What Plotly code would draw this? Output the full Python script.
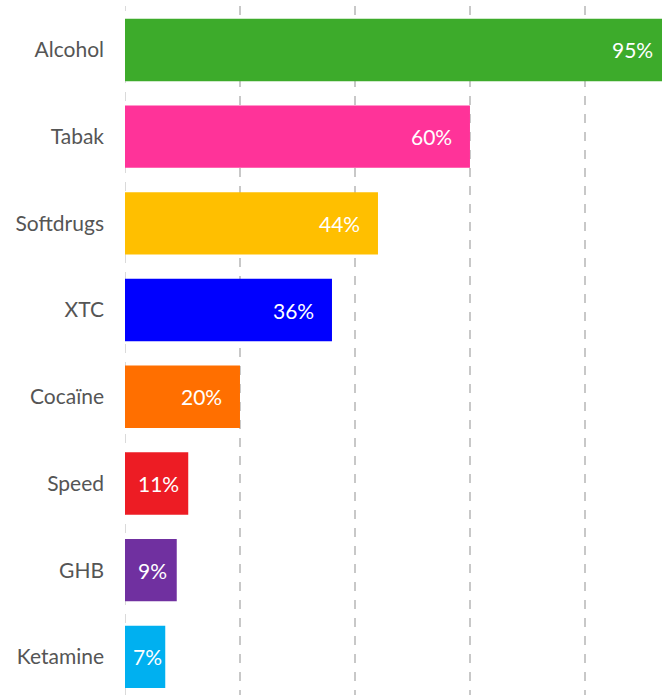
import plotly.graph_objects as go

categories = ["Alcohol", "Tabak", "Softdrugs", "XTC", "Cocaïne", "Speed", "GHB", "Ketamine"]
values = [95, 60, 44, 36, 20, 11, 9, 7]
colors = ["#3dab2b", "#ff3399", "#ffbf00", "#0000ff", "#ff6f00", "#ed1c24", "#7030a0", "#00b0f0"]

FONT = "Lato, sans-serif"
W, H = 662, 695
LEFT = 125
TOP = 6
XMAX = 93.4
PX = (W - LEFT) / XMAX   # pixels per percent
PAD = 16

fig = go.Figure(go.Bar(
    x=values,
    y=categories,
    orientation="h",
    width=0.72,
    marker=dict(color=colors, line=dict(width=0)),
    hoverinfo="skip",
))

# value labels: right-aligned inside long bars, centred in short ones
annotations = []
for cat, v in zip(categories, values):
    if v * PX > 72:
        xa = min(v, XMAX)
        annotations.append(dict(
            x=xa, y=cat, text=f"{v}%", showarrow=False,
            xanchor="right", xshift=-PAD + (v - xa) * PX,
            font=dict(color="#ffffff", size=21, family=FONT),
        ))
    else:
        annotations.append(dict(
            x=v / 2, y=cat, text=f"{v}%", showarrow=False,
            xanchor="center", xshift=2,
            font=dict(color="#ffffff", size=21, family=FONT),
        ))

# faint dashed baseline at zero
fig.add_shape(
    type="line", xref="x", yref="paper", x0=0, x1=0, y0=0, y1=1,
    line=dict(color="#dadada", width=2, dash="dash"), layer="below",
)

fig.update_layout(
    width=W,
    height=H,
    paper_bgcolor="#ffffff",
    plot_bgcolor="#ffffff",
    font=dict(family=FONT, color="#555555", size=21),
    margin=dict(l=LEFT, r=0, t=TOP, b=0, pad=0),
    showlegend=False,
    hovermode=False,
    annotations=annotations,
    xaxis=dict(
        range=[0, XMAX],
        tickvals=[20, 40, 60, 80],
        showticklabels=False,
        showgrid=True,
        gridcolor="#c8c8c8",
        gridwidth=2,
        griddash="dash",
        zeroline=False,
        showline=False,
    ),
    yaxis=dict(
        categoryorder="array",
        categoryarray=categories,
        range=[7.44, -0.507],
        showgrid=False,
        zeroline=False,
        showline=False,
        ticks="",
        ticklabelstandoff=20,
        tickfont=dict(size=21, color="#555555", family=FONT),
    ),
)

# drop the default 8px body margin so the figure fills the window exactly
fig.write_html(
    "out.html",
    config={"displayModeBar": False},
    post_script="document.body.style.margin='0';",
)
